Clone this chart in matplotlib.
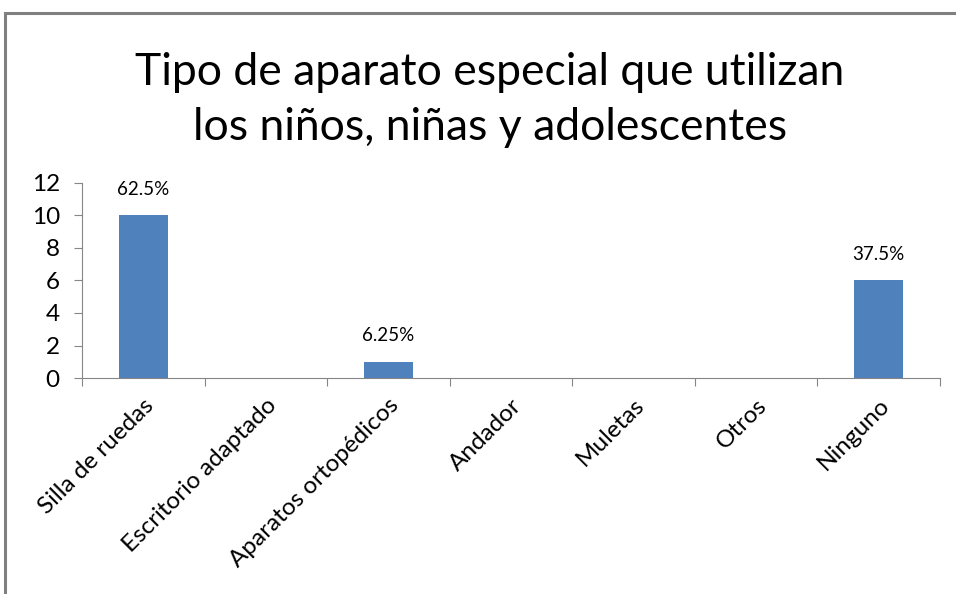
import matplotlib
matplotlib.use("Agg")
import matplotlib.pyplot as plt
from matplotlib.patches import Rectangle

# data
categorias = ["Silla de ruedas", "Escritorio adaptado", "Aparatos ortopédicos",
              "Andador", "Muletas", "Otros", "Ninguno"]
valores = [10, 0, 1, 0, 0, 0, 6]
etiquetas = {0: "62.5%", 2: "6.25%", 6: "37.5%"}
yticks = [0, 2, 4, 6, 8, 10, 12]

plt.rcParams['font.family'] = ['Lato', 'DejaVu Sans']

fig = plt.figure(figsize=(9.56, 5.94), dpi=100)
ax = fig.add_axes([0.0858, 0.3636, 0.8972, 0.3284])

# grey outer frame (only top/left visible in the crop)
fig.patches.append(Rectangle((5/956, -0.1), 1.2, 1 - 13/594 + 0.1, transform=fig.transFigure,
                             fill=False, edgecolor="#808080", linewidth=2.2))

x = list(range(len(categorias)))
ax.bar(x, valores, width=0.4, color="#4F81BD")
for i, txt in etiquetas.items():
    ax.text(i, valores[i] + 1.6, txt, ha="center", va="center", fontsize=13.5)

ax.set_xlim(-0.5, len(categorias) - 0.5)
ax.set_ylim(0, 12)
ax.set_yticks(yticks)
ax.set_xticks([i - 0.5 for i in range(len(categorias) + 1)], minor=False)
ax.set_xticklabels([])
ax.set_xticks(x, minor=True)
ax.set_xticklabels(categorias, minor=True, rotation=45, ha="right", rotation_mode="anchor",
                   fontsize=17.5)
ax.tick_params(axis="x", which="minor", length=0, pad=12)
ax.tick_params(axis="x", which="major", length=6, color="#868686")
ax.tick_params(axis="y", length=6, color="#868686", labelsize=17.5, pad=10)
for s in ["top", "right"]:
    ax.spines[s].set_visible(False)
for s in ["left", "bottom"]:
    ax.spines[s].set_color("#868686")

fig.text(0.5125, 0.878, "Tipo de aparato especial que utilizan", ha="center", va="center", fontsize=32)
fig.text(0.5125, 0.786, "los niños, niñas y adolescentes", ha="center", va="center", fontsize=32)

fig.savefig("out.png", dpi=100)
